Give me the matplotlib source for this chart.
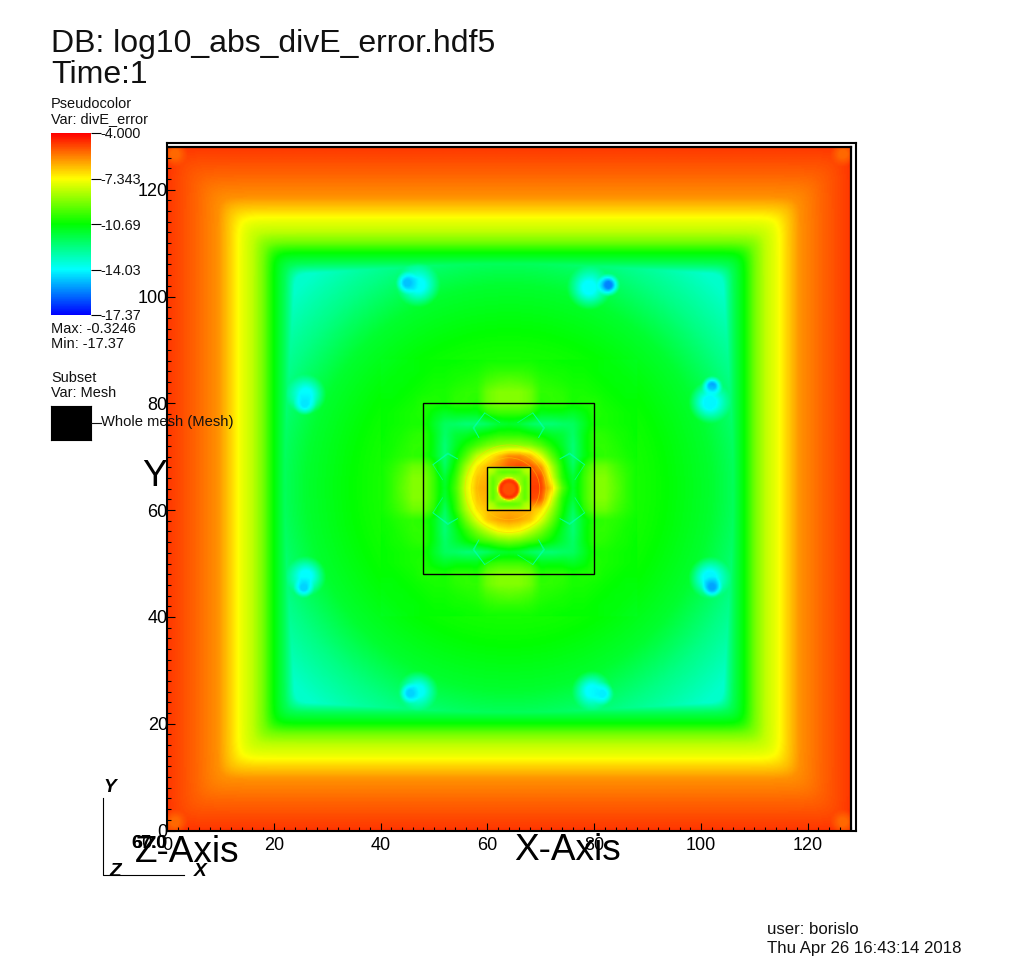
import numpy as np
import matplotlib
matplotlib.use("Agg")
import matplotlib.pyplot as plt
from matplotlib.colors import LinearSegmentedColormap
from matplotlib.patches import Rectangle, Circle

plt.rcParams['font.family'] = ['Liberation Sans', 'DejaVu Sans']

W, H = 1024, 973

# colour range of the pseudocolor plot
vmin, vmax = -17.37, -4.0
cbar_ticks = [-4.0, -7.343, -10.69, -14.03, -17.37]
cbar_labels = ["-4.000", "-7.343", "-10.69", "-14.03", "-17.37"]
hot_colors = ["#0000ff", "#00ffff", "#00ff00", "#ffff00", "#ff0000"]

x_ticks = [0, 20, 40, 60, 80, 100, 120]
y_ticks = [0, 20, 40, 60, 80, 100, 120]
mesh_boxes = [(48, 80), (60, 68)]

# value against distance from the centre, read along the outer square bands
band_dist = [0, 38, 39.5, 41, 42, 44, 46, 48, 50, 50.8, 52, 54.5, 58.8, 63.3, 64]
band_val = [-17, -17, -14.0, -12.6, -11.8, -10.7, -9.2, -8.2, -7.6, -7.3, -6.8, -5.9, -5.3, -4.8, -4.7]

# value against radius for the plateau inside the bands
plateau_r = [0, 20, 28, 38, 46, 54, 90]
plateau_val = [-10.2, -10.2, -10.6, -11.3, -12.4, -13.3, -13.4]

# red disc in the middle of the finest box
disc_r = [0, 1.0, 1.5, 1.8, 2.2, 2.7]
disc_val = [-5.0, -5.0, -4.6, -5.0, -8.0, -12.0]

# one quadrant round the middle box, offsets 0..24 in steps of 2 (rows dy, columns dx)
mid_step = 2
mid_table = [
    [-11, -11, -11, -11, -11, -11, -11.2, -10.0, -9.0, -9.0, -9.5, -10.1, -10.5],
    [-11, -11, -11, -11, -11, -11, -11.4, -10.0, -9.0, -9.0, -9.6, -10.1, -10.5],
    [-11, -11, -11, -11, -11, -11, -11.9, -10.2, -9.3, -9.3, -9.8, -10.2, -10.5],
    [-11, -11, -11, -11, -11, -11, -12.2, -11.0, -10.2, -10.1, -10.2, -10.4, -10.6],
    [-11, -11, -11, -11, -11, -11, -12.2, -11.0, -10.1, -10.1, -10.3, -10.5, -10.6],
    [-11, -11, -11, -11, -11, -11, -12.0, -11.0, -10.1, -10.2, -10.4, -10.5, -10.7],
    [-11.2, -11.4, -11.9, -12.2, -12.2, -12.0, -11.9, -11.2, -10.4, -10.4, -10.5, -10.6, -10.7],
    [-10.0, -10.0, -10.2, -11.0, -11.0, -11.0, -11.2, -10.9, -10.3, -10.4, -10.5, -10.6, -10.7],
    [-9.0, -9.0, -9.3, -10.2, -10.1, -10.1, -10.4, -10.3, -10.3, -10.5, -10.6, -10.7, -10.7],
    [-9.0, -9.0, -9.3, -10.1, -10.1, -10.2, -10.4, -10.4, -10.5, -10.6, -10.7, -10.8, -10.8],
    [-9.5, -9.6, -9.8, -10.2, -10.3, -10.4, -10.5, -10.5, -10.6, -10.7, -10.8, -10.8, -10.9],
    [-10.1, -10.1, -10.2, -10.4, -10.5, -10.5, -10.6, -10.6, -10.7, -10.8, -10.8, -10.9, -11.0],
    [-10.5, -10.5, -10.5, -10.6, -10.6, -10.7, -10.7, -10.7, -10.7, -10.8, -10.9, -11.0, -11.1],
]

# blob round the finest box, x and y 52..76 in steps of 2, top row is y=76
blob_step = 2
blob_table = [
    [-11.9, -12.0, -12.2, -12.2, -11.9, -11.4, -11.2, -11.4, -11.9, -12.2, -12.2, -12.0, -11.9],
    [-12.0, -11.4, -11.2, -10.8, -10.5, -10.2, -10.2, -10.2, -10.5, -10.8, -11.2, -11.4, -12.0],
    [-12.2, -11.2, -10.4, -9.8, -9.2, -8.9, -8.8, -8.8, -9.0, -9.6, -10.4, -11.2, -12.2],
    [-12.2, -10.8, -9.6, -8.2, -7.4, -6.6, -5.8, -5.8, -6.4, -7.8, -9.5, -10.8, -12.2],
    [-11.9, -10.4, -8.6, -7.1, -6.4, -5.9, -5.2, -4.9, -5.1, -6.0, -8.4, -10.4, -11.9],
    [-11.4, -10.0, -8.0, -6.6, -6.3, -6.2, -6.0, -5.4, -4.9, -5.0, -7.8, -10.2, -11.4],
    [-11.2, -9.8, -7.8, -6.4, -6.2, -6.0, -6.0, -5.5, -4.8, -4.8, -6.8, -9.6, -11.2],
    [-11.4, -10.0, -8.0, -6.6, -6.3, -6.2, -6.0, -5.5, -4.9, -5.2, -7.8, -10.2, -11.4],
    [-11.9, -10.2, -8.4, -7.0, -6.5, -6.4, -6.3, -6.3, -6.3, -6.9, -8.6, -10.4, -11.9],
    [-12.2, -10.8, -9.2, -7.8, -6.6, -6.2, -6.0, -6.2, -6.6, -7.8, -9.3, -10.8, -12.2],
    [-12.2, -11.2, -10.1, -9.1, -8.2, -7.4, -7.2, -7.4, -8.2, -9.1, -10.1, -11.2, -12.2],
    [-12.0, -11.4, -10.8, -10.2, -9.8, -9.4, -9.2, -9.4, -9.8, -10.2, -10.8, -11.4, -12.0],
    [-11.9, -12.0, -12.2, -12.2, -11.9, -11.4, -11.2, -11.4, -11.9, -12.2, -12.2, -12.0, -11.9],
]

# inside the finest box, x and y 60..68 in steps of 1, top row is y=68
core_table = [
    [-7.9, -8.3, -8.5, -8.5, -8.5, -8.5, -8.5, -8.3, -7.9],
    [-8.3, -8.5, -9.3, -9.5, -9.5, -9.5, -9.3, -8.5, -8.3],
    [-8.5, -9.3, -8.9, -8.7, -8.4, -8.7, -8.9, -9.3, -8.5],
    [-8.5, -9.5, -8.7, -8.2, -8.2, -8.2, -8.7, -9.5, -8.5],
    [-8.5, -9.5, -8.4, -8.2, -8.2, -8.2, -8.4, -9.5, -8.5],
    [-8.5, -9.5, -8.7, -8.2, -8.2, -8.2, -8.7, -9.5, -8.5],
    [-8.5, -9.5, -8.6, -8.2, -8.2, -8.2, -8.7, -9.5, -8.5],
    [-8.3, -8.5, -9.3, -9.5, -9.5, -9.5, -9.3, -8.5, -8.3],
    [-7.9, -8.3, -8.5, -8.5, -8.5, -8.5, -8.5, -8.3, -7.9],
]

# low spots in the plateau and lighter patches in the corners
spot_x = [47, 45, 79, 82.6, 102, 101.6, 101.6, 102, 79.5, 81.5, 47, 45.5, 26, 25.6, 26, 25.8, 1.5, 126.5, 1.5, 126.5]
spot_y = [102, 102.4, 101.5, 102, 83, 80, 47.2, 45.5, 26, 25.5, 26, 25.6, 47.5, 45.4, 81.5, 79.8, 1.5, 1.5, 126.5, 126.5]
spot_val = [-14.0, -14.8, -14.0, -15.6, -15.4, -14.1, -14.1, -15.2, -14.0, -14.2, -13.9, -14.6, -14.0, -14.6, -14.0, -14.3, -5.4, -5.4, -5.4, -5.4]
spot_size = [4.2, 2.2, 4.2, 2.2, 2.0, 4.0, 4.0, 2.0, 3.8, 2.2, 3.8, 2.0, 3.8, 2.0, 3.8, 2.2, 2.4, 2.4, 2.4, 2.4]

# thin cyan creases in the middle box, offsets from the centre in one quadrant
crease_dx = [4.5, 6.7, 5.6]
crease_dy = [14.2, 11.4, 9.6]
crease2_dx = [9.6, 11.4, 14.2, 12.4]
crease2_dy = [5.6, 6.5, 4.5, 1.7]

# faint rings in the blob
ring_r = [5.8, 7.0, 8.2]


def px_x(x):
    return x / W


def px_y(y):
    return 1 - y / H


def lookup(table, x0, step, x, y, flip=False):
    """Bilinear lookup in a table, x and y inside its range."""
    table = np.array(table, dtype=float)
    if flip:
        table = table[::-1]
    fx = (x - x0) / step
    fy = (y - x0) / step
    i = np.clip(np.floor(fx).astype(int), 0, table.shape[1] - 2)
    j = np.clip(np.floor(fy).astype(int), 0, table.shape[0] - 2)
    fx, fy = fx - i, fy - j
    return (table[j, i] * (1 - fx) * (1 - fy) + table[j, i + 1] * fx * (1 - fy)
            + table[j + 1, i] * (1 - fx) * fy + table[j + 1, i + 1] * fx * fy)


def build_field():
    xs = np.arange(0.125, 128, 0.25)
    x, y = np.meshgrid(xs, xs)
    dx, dy = np.abs(x - 64), np.abs(y - 64)
    dist = (dx ** 40 + dy ** 40) ** (1 / 40)
    r = np.hypot(dx, dy)
    field = np.maximum(np.interp(dist, band_dist, band_val), np.interp(r, plateau_r, plateau_val))

    inside = (dx <= 24) & (dy <= 24)
    field[inside] = lookup(mid_table, 0, mid_step, dx[inside], dy[inside])

    inside = (dx <= 12) & (dy <= 12)
    field[inside] = lookup(blob_table, 52, blob_step, x[inside], y[inside], flip=True)

    inside = (dx <= 4) & (dy <= 4)
    field[inside] = lookup(core_table, 60, 1, x[inside], y[inside], flip=True)
    disc = np.hypot(x - 64, y - 63.8)
    field = np.maximum(field, np.interp(disc, disc_r, disc_val, right=-99))

    for sx, sy, val, size in zip(spot_x, spot_y, spot_val, spot_size):
        weight = np.clip(1 - np.hypot(x - sx, y - sy) / size, 0, 1)
        weight = np.minimum(weight * 1.4, 1)
        field = field * (1 - weight) + val * weight
    return field


def label(x, y, s, size, **kw):
    kw.setdefault("va", "center")
    kw.setdefault("color", "#111111")
    fig.text(px_x(x), px_y(y), s, fontsize=size * 0.72, zorder=10, **kw)


cmap = LinearSegmentedColormap.from_list("visit_hot", hot_colors, N=256)
fig = plt.figure(figsize=(W / 100, H / 100), dpi=100, facecolor="white")

# main plot
left, right, top, bottom = 167, 856, 142.5, 830.5
ax = fig.add_axes([px_x(left), px_y(bottom), (right - left) / W, (bottom - top) / H])
im = ax.imshow(build_field(), origin="lower", extent=[0, 128, 0, 128], cmap=cmap,
               vmin=vmin, vmax=vmax, interpolation="bilinear", aspect="auto")
ax.set_xlim(0, (right - left) / 5.34)
ax.set_ylim(0, (bottom - top) / 5.34)
ax.plot([128, 128], [0, 128], color="black", lw=1.6)
ax.plot([0, 128], [128, 128], color="black", lw=1.6)

# creases and rings sit on the field, under the mesh boxes
for sx in (-1, 1):
    for sy in (-1, 1):
        for cx, cy in ((crease_dx, crease_dy), (crease_dy, crease_dx), (crease2_dx, crease2_dy), (crease2_dy, crease2_dx)):
            ax.plot(64 + sx * np.array(cx), 64 + sy * np.array(cy), color="#00ffc0", lw=0.6, alpha=0.6)
for radius in ring_r:
    ax.add_patch(Circle((64, 64), radius, fill=False, ec="#ffd000", lw=0.6, alpha=0.45))

for low, high in mesh_boxes:
    ax.add_patch(Rectangle((low, low), high - low, high - low, fill=False, ec="black", lw=1.0, zorder=4))

ax.set_xticks(x_ticks)
ax.set_yticks(y_ticks)
ax.set_xticks(np.arange(0, 129, 2), minor=True)
ax.set_yticks(np.arange(0, 129, 2), minor=True)
ax.tick_params(which="major", direction="in", length=6, width=0.8, labelsize=13)
ax.tick_params(which="minor", direction="in", length=2.6, width=0.8)
ax.tick_params(axis="x", which="major", pad=5)
ax.tick_params(axis="y", which="major", pad=-0.6)
for spine in ax.spines.values():
    spine.set_linewidth(1.5)

# colour bar
cax = fig.add_axes([px_x(51), px_y(315), 40 / W, 182 / H])
cbar = fig.colorbar(im, cax=cax, ticks=cbar_ticks)
cbar.ax.set_yticklabels(cbar_labels)
cbar.ax.tick_params(length=7, width=0.8, labelsize=10.4, pad=0, labelcolor="#111111")
cbar.outline.set_visible(False)

# subset legend swatch
lax = fig.add_axes([px_x(51), px_y(440), 40 / W, 34 / H])
lax.set_facecolor("black")
lax.set_xticks([])
lax.set_yticks([])
fig.add_artist(plt.Line2D([px_x(91), px_x(101)], [px_y(423), px_y(423)], color="#111111", lw=0.8))

# annotations
label(51, 52, "DB: log10_abs_divE_error.hdf5", 32, va="baseline")
label(51, 83, "Time:1", 32, va="baseline")
label(51, 104, "Pseudocolor", 14.5)
label(51, 119, "Var: divE_error", 14.5)
label(51, 329, "Max: -0.3246", 14.5)
label(51, 344, "Min: -17.37", 14.5)
label(51, 378, "Subset", 14.5)
label(51, 393, "Var: Mesh", 14.5)
label(101, 422, "Whole mesh (Mesh)", 14.8)
label(767, 930, "user: borislo", 16.8)
label(767, 948, "Thu Apr 26 16:43:14 2018", 16.8)

label(568, 851, "X-Axis", 37, ha="center", color="black")
label(187, 852, "Z-Axis", 37, ha="center", color="black")
label(154, 477, "Y", 37, ha="center", color="black")
label(149, 844, "67.0", 18, ha="center", color="black", fontweight="bold")
label(150, 844, "60.0", 18, ha="center", color="black")

# orientation triad
fig.add_artist(plt.Line2D([px_x(102.5), px_x(102.5), px_x(184)], [px_y(798), px_y(875), px_y(875)], color="black", lw=0.8))
label(110, 787, "Y", 19, ha="center", color="black", fontweight="bold", style="italic")
label(115, 872, "Z", 19, ha="center", color="black", fontweight="bold", style="italic")
label(200, 872, "X", 19, ha="center", color="black", fontweight="bold", style="italic")

fig.savefig("out.png", dpi=100)
